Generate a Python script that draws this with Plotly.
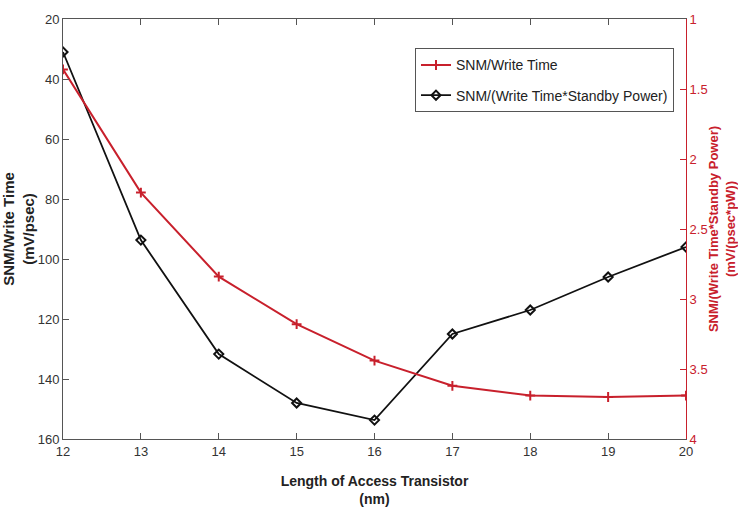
import plotly.graph_objects as go

length_nm = [12, 13, 14, 15, 16, 17, 18, 19, 20]
snm_write_time = [1.36, 2.24, 2.84, 3.18, 3.44, 3.62, 3.69, 3.70, 3.69]
snm_write_time_power = [31, 93.7, 131.7, 148, 153.7, 125, 117, 106, 96]

left_ticks = [20, 40, 60, 80, 100, 120, 140, 160]
right_ticks = [1, 1.5, 2, 2.5, 3, 3.5, 4]
x_ticks = [12, 13, 14, 15, 16, 17, 18, 19, 20]

RED = "#c8202c"
FAM = "Liberation Sans Narrow, Liberation Sans, Arial"
TICKFONT = dict(family=FAM, size=13, color="#333333")

fig = go.Figure()
fig.add_trace(go.Scatter(
    x=length_nm, y=snm_write_time, yaxis="y2", name="SNM/Write Time",
    legendgroup="a",
    mode="lines+markers", line=dict(color=RED, width=2),
    marker=dict(symbol="cross-thin", size=7, line=dict(color=RED, width=2)),
))
fig.add_trace(go.Scatter(
    x=length_nm, y=snm_write_time_power, yaxis="y", name="SNM/(Write Time*Standby Power)",
    legendgroup="b",
    mode="lines+markers", line=dict(color="#111111", width=1.8),
    marker=dict(symbol="diamond-open", size=7, color="#111111", line=dict(color="#111111", width=2)),
))

fig.update_layout(
    width=738, height=517,
    margin=dict(l=63, r=52, t=19, b=78),
    paper_bgcolor="white", plot_bgcolor="white",
    showlegend=True,
    legend=dict(
        x=0.565, y=0.93, xanchor="left", yanchor="top",
        bordercolor="#555555", borderwidth=1, bgcolor="white",
        font=dict(family=FAM, size=14, color="#222222"),
        traceorder="grouped", tracegroupgap=9,
    ),
    xaxis=dict(
        range=[12, 20], tickvals=x_ticks, ticktext=[str(v) for v in x_ticks],
        showline=True, linecolor="#555555", linewidth=1, mirror="ticks",
        ticks="inside", ticklen=6, tickcolor="#555555", automargin=False,
        showgrid=False, zeroline=False, tickfont=TICKFONT,
        title=dict(text="<b>Length of Access Transistor</b><br><b>(nm)</b>",
                   font=dict(family=FAM, size=14, color="#222222"),
                   standoff=18),
    ),
    yaxis=dict(
        range=[160, 20], tickvals=left_ticks, ticktext=[str(v) for v in left_ticks],
        showline=True, linecolor="#555555", linewidth=1, automargin=False,
        ticks="inside", ticklen=6, tickcolor="#555555",
        showgrid=False, zeroline=False, tickfont=TICKFONT,
        title=dict(text="<b>SNM/Write Time</b><br><b>(mV/psec)</b>",
                   font=dict(family="Liberation Sans, Arial", size=15, color="#222222"),
                   standoff=4),
    ),
    yaxis2=dict(
        range=[4, 1], tickvals=right_ticks, ticktext=[str(v) for v in right_ticks],
        overlaying="y", side="right", automargin=False,
        showline=True, linecolor=RED, linewidth=1,
        ticks="inside", ticklen=6, tickcolor=RED,
        showgrid=False, zeroline=False,
        tickfont=dict(family=FAM, size=13, color=RED),
        title=dict(text="<b>SNM/(Write Time*Standby Power)</b><br><b>(mV/(psec*pW))</b>",
                   font=dict(family="Liberation Sans, Arial", size=13, color=RED),
                   standoff=9),
    ),
)

fig.write_html("out.html")
